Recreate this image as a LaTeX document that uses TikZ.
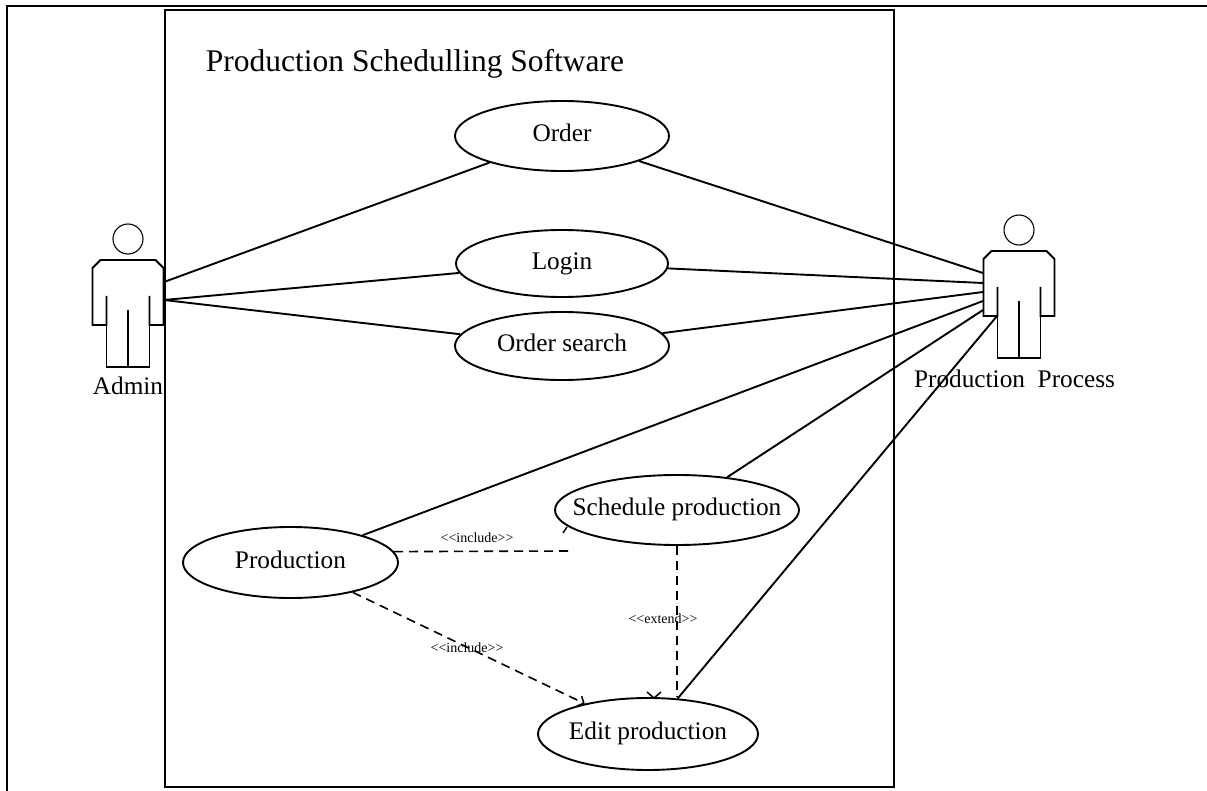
\documentclass[tikz,border=0pt]{standalone}
\usepackage{fontspec}
\setmainfont{Liberation Serif}
\newfontfamily\lblfont{Liberation Serif}
\usetikzlibrary{arrows.meta,shapes.geometric}
\begin{document}
\begin{tikzpicture}[x=1pt,y=-1pt,
  assoc/.style={line width=1.9pt},
  dep/.style={line width=1.6pt, dash pattern=on 9pt off 6pt},
  uc/.style={draw, ellipse, line width=1.9pt, inner sep=0pt,
    text height=17pt, text depth=5.5pt, font=\fontsize{25.3}{30}\selectfont},
  lbl/.style={inner sep=0pt, font=\lblfont\fontsize{14}{16}\selectfont},
  actorlbl/.style={inner sep=0pt, anchor=base, font=\fontsize{25.3}{30}\selectfont},
  actor/.pic={
    \draw[line width=1.1pt] (0,0) circle (15pt);
    \draw[line width=1.9pt, line join=miter] (-21.5,57) -- (-21.5,86) -- (-35.5,86) -- (-35.5,29) -- (-27.5,21) -- (27.5,21) -- (35.5,29) -- (35.5,86) -- (21.5,86) -- (21.5,57);
    \draw[line width=1.9pt] (-21.5,86) -- (-21.5,128) -- (21.5,128) -- (21.5,86);
    \draw[line width=1.9pt] (0,71) -- (0,128);
  }]
\useasboundingbox (0,0) rectangle (1207,791);
% frames
\draw[line width=1.9pt] (7,791) -- (7,6) -- (1207,6);
\draw[line width=1.9pt] (165,10) rectangle (894,787);
\node[anchor=base, inner sep=0pt, font=\fontsize{31.5}{36}\selectfont] (title) at (415,72) {Production Schedulling Software};
% actors
\pic at (128,239) {actor};
\pic at (1019,230) {actor};
\node[actorlbl] (admin) at (128,394) {Admin};
\node[actorlbl] (pproc) at (1014.5,387) {Production\ \ Process};
\coordinate (adm1) at (164,282);
\coordinate (adm2) at (164,300);
\coordinate (pp1) at (983,273);
\coordinate (pp2) at (983,283);
\coordinate (pp3) at (983,292);
\coordinate (pp4) at (983,301);
\coordinate (pp5) at (983,310);
\coordinate (pp6) at (997,316);
% use cases
\node[uc, minimum width=214pt, minimum height=70pt] (order) at (562,136) {\makebox[0pt]{Order}};
\node[uc, minimum width=212pt, minimum height=67pt] (login) at (562,263.5) {\makebox[0pt]{Login}};
\node[uc, minimum width=214pt, minimum height=68pt] (osearch) at (562,346) {\makebox[0pt]{Order search}};
\node[uc, minimum width=215pt, minimum height=71pt] (prod) at (290.5,562.5) {\makebox[0pt]{Production}};
\node[uc, minimum width=244pt, minimum height=70pt] (sched) at (677,510) {\makebox[0pt]{Schedule production}};
\node[uc, minimum width=220pt, minimum height=72pt] (edit) at (648,734) {\makebox[0pt]{Edit production}};
% associations
\draw[assoc] (adm1) -- (order);
\draw[assoc] (adm2) -- (login);
\draw[assoc] (adm2) -- (osearch);
\draw[assoc] (order) -- (pp1);
\draw[assoc] (login) -- (pp2);
\draw[assoc] (osearch) -- (pp3);
\draw[assoc] (prod) -- (pp4);
\draw[assoc] (sched) -- (pp5);
\draw[assoc] (edit) -- (pp6);
% dependencies
\coordinate (inc1end) at (568,551);
\draw[dep] (prod.6.5) -- (inc1end);
\coordinate (tickA) at (563,533);
\coordinate (tickB) at (567,527);
\draw[line width=1.5pt] (tickA) -- (tickB);
\draw[dep, -{Straight Barb[length=5pt,width=11pt,line width=1.5pt]}] (prod) -- (edit);
\coordinate (extend end) at (sched.south |- edit.north);
\draw[dep] (sched.south) -- (extend end);
\coordinate (vL) at (647,692);
\coordinate (vT) at (654,698);
\coordinate (vR) at (661,692);
\draw[line width=1.5pt] (vL) -- (vT) -- (vR);
% labels
\node[lbl] (inc1lbl) at (477,538) {<<include>>};
\node[lbl] (inc2lbl) at (467,648) {<<include>>};
\node[lbl] (extlbl) at (663,619) {<<extend>>};
\end{tikzpicture}
\end{document}
